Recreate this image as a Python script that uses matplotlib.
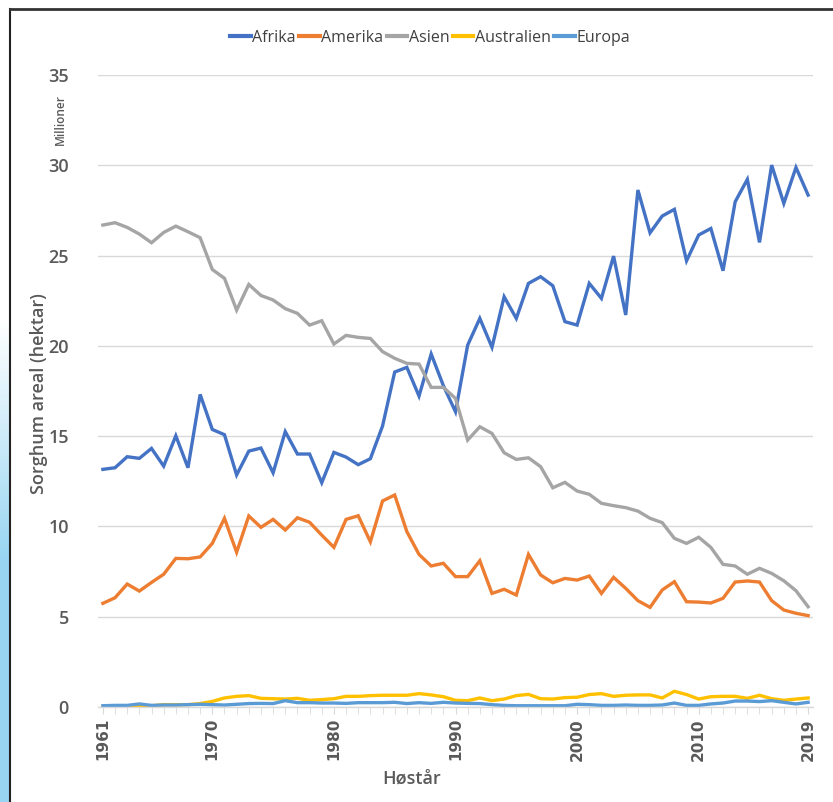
import numpy as np
import matplotlib
matplotlib.use("Agg")
import matplotlib.pyplot as plt
from matplotlib.ticker import MultipleLocator

years = list(range(1961, 2020))

# million hectares
afrika = [13.16, 13.25, 13.86, 13.77, 14.32, 13.34, 15.02, 13.25, 17.31, 15.37,
          15.08, 12.85, 14.17, 14.34, 12.97, 15.25, 14.01, 14.01, 12.42, 14.10,
          13.84, 13.42, 13.75, 15.56, 18.55, 18.81, 17.22, 19.55, 17.80, 16.35,
          20.04, 21.52, 19.92, 22.72, 21.52, 23.46, 23.83, 23.33, 21.34, 21.15,
          23.46, 22.63, 24.97, 21.71, 28.63, 26.26, 27.19, 27.56, 24.71, 26.14,
          26.50, 24.16, 27.98, 29.22, 25.73, 30.01, 27.89, 29.88, 28.35]
amerika = [5.74, 6.05, 6.81, 6.42, 6.90, 7.35, 8.23, 8.21, 8.31, 9.06,
           10.45, 8.57, 10.58, 9.95, 10.39, 9.80, 10.48, 10.23, 9.52, 8.84,
           10.39, 10.59, 9.15, 11.41, 11.74, 9.71, 8.45, 7.81, 7.96, 7.22,
           7.22, 8.10, 6.29, 6.52, 6.20, 8.45, 7.31, 6.88, 7.12, 7.03,
           7.25, 6.29, 7.18, 6.57, 5.89, 5.52, 6.48, 6.94, 5.83, 5.81,
           5.76, 6.02, 6.92, 6.98, 6.92, 5.89, 5.37, 5.19, 5.06]
asien = [26.69, 26.82, 26.56, 26.19, 25.71, 26.28, 26.63, 26.32, 25.99, 24.23,
         23.74, 21.98, 23.40, 22.79, 22.54, 22.06, 21.80, 21.15, 21.39, 20.10,
         20.58, 20.47, 20.41, 19.68, 19.31, 19.03, 18.99, 17.70, 17.70, 17.09,
         14.78, 15.52, 15.15, 14.08, 13.71, 13.80, 13.31, 12.14, 12.44, 11.96,
         11.78, 11.28, 11.15, 11.04, 10.85, 10.45, 10.21, 9.34, 9.06, 9.40,
         8.84, 7.90, 7.81, 7.35, 7.68, 7.40, 6.99, 6.44, 5.55]
australien = [0.00, 0.07, 0.04, 0.07, 0.07, 0.13, 0.13, 0.13, 0.19, 0.31,
              0.50, 0.59, 0.63, 0.48, 0.46, 0.44, 0.48, 0.37, 0.41, 0.46,
              0.59, 0.59, 0.63, 0.65, 0.65, 0.65, 0.74, 0.67, 0.57, 0.37,
              0.35, 0.50, 0.35, 0.44, 0.63, 0.70, 0.46, 0.44, 0.52, 0.54,
              0.69, 0.74, 0.59, 0.65, 0.67, 0.67, 0.50, 0.87, 0.69, 0.44,
              0.57, 0.59, 0.59, 0.48, 0.65, 0.46, 0.37, 0.44, 0.50]
europa = [0.07, 0.09, 0.09, 0.17, 0.09, 0.11, 0.11, 0.13, 0.15, 0.13,
          0.11, 0.15, 0.19, 0.20, 0.19, 0.35, 0.24, 0.24, 0.22, 0.22,
          0.20, 0.24, 0.24, 0.24, 0.26, 0.19, 0.24, 0.20, 0.26, 0.22,
          0.20, 0.19, 0.13, 0.09, 0.07, 0.07, 0.07, 0.07, 0.07, 0.15,
          0.13, 0.09, 0.09, 0.11, 0.09, 0.09, 0.11, 0.22, 0.09, 0.09,
          0.17, 0.22, 0.33, 0.33, 0.30, 0.35, 0.26, 0.17, 0.26]

series = [("Afrika", afrika, "#4472C4"),
          ("Amerika", amerika, "#ED7D31"),
          ("Asien", asien, "#A5A5A5"),
          ("Australien", australien, "#FFC000"),
          ("Europa", europa, "#5B9BD5")]

txt = "#595959"
fam = ["Open Sans", "DejaVu Sans"]
fig = plt.figure(figsize=(8.33, 8.02), dpi=100)

# screenshot frame: gradient strip on the left + dark border
bg = fig.add_axes([0, 0, 9 / 833, 1])
grad = np.linspace(0, 1, 802)
grad = np.clip((grad - 0.40) / 0.30, 0, 1)[:, None]
cmap = matplotlib.colors.LinearSegmentedColormap.from_list("strip", ["white", "#97D5F2"])
bg.imshow(grad, aspect="auto", cmap=cmap, extent=[0, 1, 0, 1], origin="upper")
bg.axis("off")
fig.add_artist(plt.Line2D([9.5 / 833, 9.5 / 833], [0, 1 - 8.5 / 802], color="#222222", lw=1.5))
fig.add_artist(plt.Line2D([9.5 / 833, 1], [1 - 8.5 / 802, 1 - 8.5 / 802], color="#333333", lw=2))

ax = fig.add_axes([98 / 833, 1 - 707 / 802, 715 / 833, (707 - 75) / 802])
for name, vals, col in series:
    ax.plot(years, vals, color=col, lw=2.4, label=name, solid_joinstyle="miter")

ax.set_xlim(1960.6, 2019.4)
ax.set_ylim(0, 35)
ax.yaxis.set_major_locator(MultipleLocator(5))
ax.grid(axis="y", color="#D9D9D9", lw=1)
ax.set_axisbelow(True)
for s in ["top", "right", "left"]:
    ax.spines[s].set_visible(False)
ax.spines["bottom"].set_color("#D9D9D9")
ax.spines["bottom"].set_linewidth(1)

ax.set_xticks([1961, 1970, 1980, 1990, 2000, 2010, 2019])
ax.set_xticks(years, minor=True)
ax.tick_params(axis="x", which="both", length=5, color="#D9D9D9", pad=3)
ax.tick_params(axis="x", which="major", labelsize=11, labelcolor=txt, labelrotation=90)
for lab in ax.get_xticklabels():
    lab.set_fontweight("bold")
ax.tick_params(axis="y", length=0, pad=21, labelsize=13, labelcolor=txt)
for lab in ax.get_yticklabels():
    lab.set_family(fam)
    lab.set_fontweight("semibold")

fig.text(39 / 833, 1 - 394 / 802, "Sorghum areal (hektar)", rotation=90, ha="center", va="center",
         fontsize=13, color=txt, family=fam, fontweight="semibold")
fig.text(60 / 833, 1 - 120 / 802, "Millioner", rotation=90, ha="center", va="center",
         fontsize=8.5, color=txt, family=fam, fontweight="semibold")
fig.text(412 / 833, 1 - 779 / 802, "Høstår", ha="center", va="center",
         fontsize=13, color=txt, family=fam, fontweight="semibold")

leg = fig.legend(loc="center", bbox_to_anchor=(430 / 833, 1 - 38 / 802), ncol=5, frameon=False,
                 handlelength=1.3, handletextpad=0.1, columnspacing=0.2,
                 prop={"family": fam, "size": 11.5})
for t in leg.get_texts():
    t.set_color("#404040")
for h in leg.legend_handles:
    h.set_linewidth(3)

fig.savefig("out.png", dpi=100)
